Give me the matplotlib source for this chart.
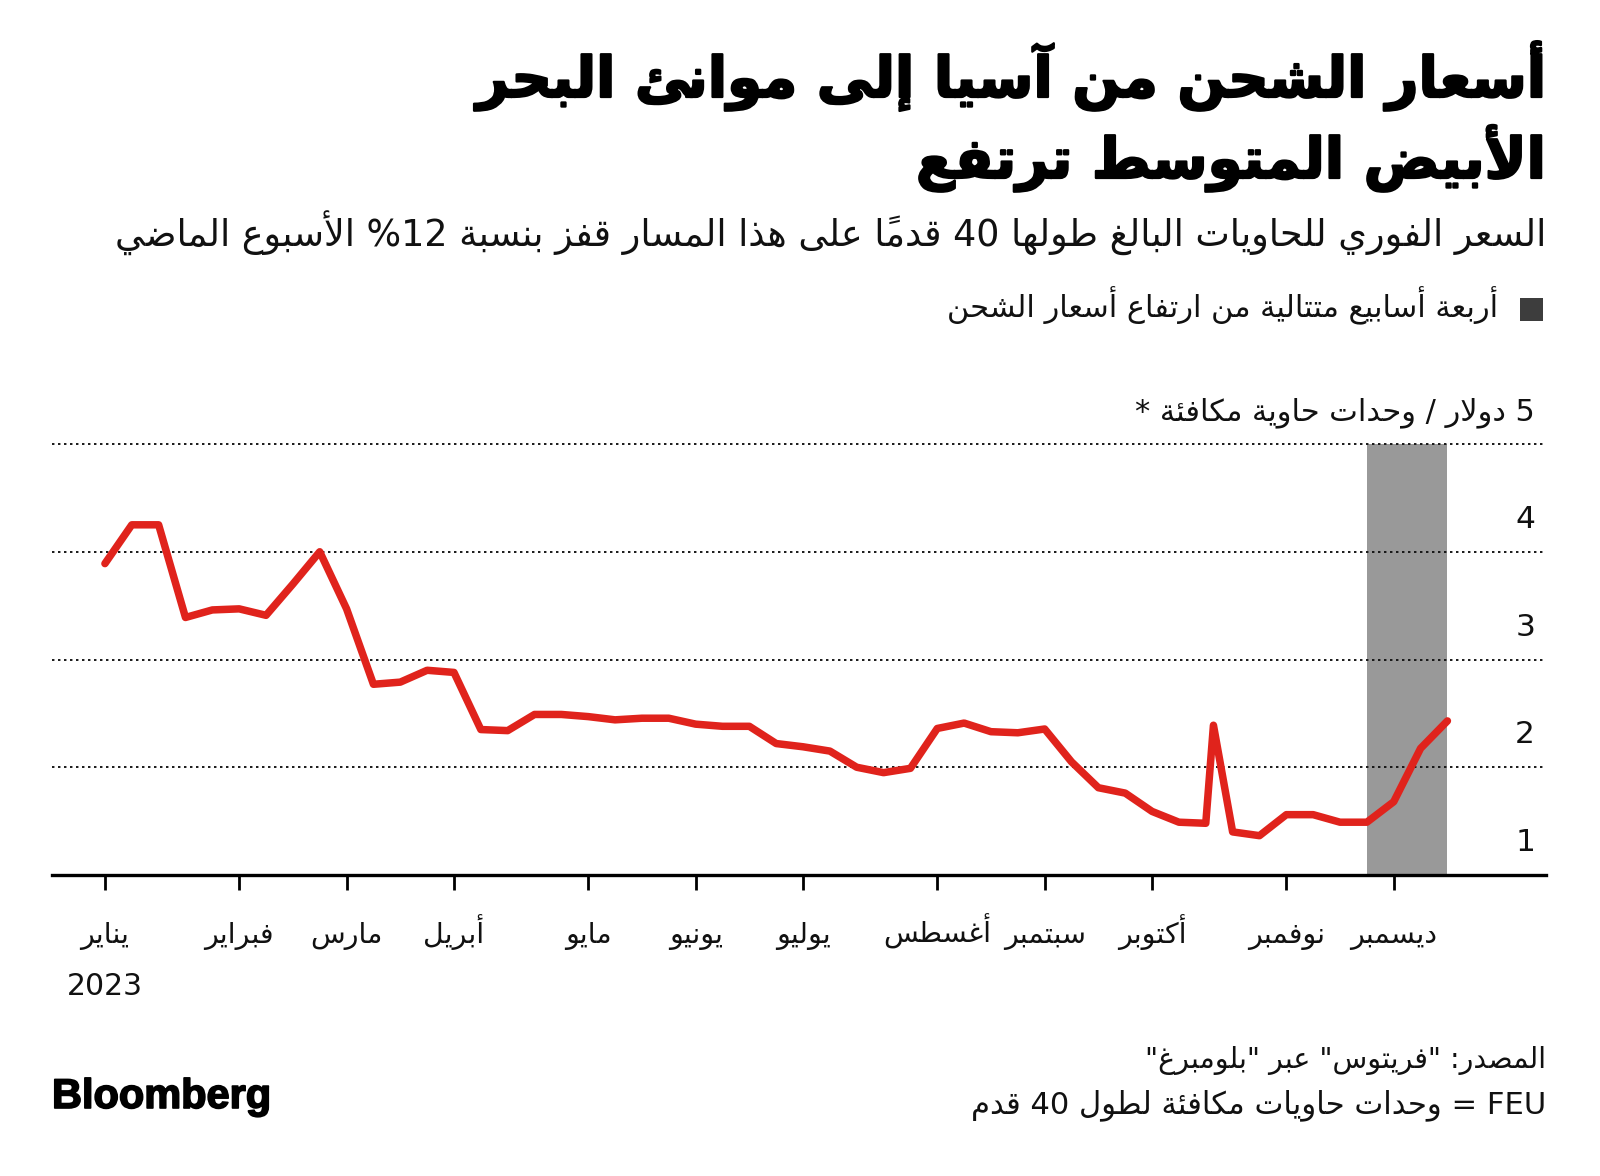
import datetime as dt
import matplotlib
matplotlib.use('Agg')
import matplotlib.pyplot as plt
import matplotlib.dates as mdates
import matplotlib.patheffects as pe
from matplotlib.patches import Rectangle
from matplotlib.transforms import offset_copy
import pandas as pd

plt.rcParams['font.family'] = ['DejaVu Sans']

# ---- data (Freightos Asia -> Mediterranean, weekly) ----
week_dates = list(pd.date_range('2023-01-01', periods=51, freq='7D'))
week_dates.insert(42, pd.Timestamp('2023-10-17'))   # extra mid-week print (spike)
rates = [3.89, 4.25, 4.25, 3.39, 3.46, 3.47, 3.41, 3.70, 4.00, 3.47,
         2.77, 2.79, 2.90, 2.88, 2.35, 2.34, 2.49, 2.49, 2.47, 2.44,
         2.455, 2.455, 2.40, 2.38, 2.38, 2.22, 2.19, 2.15, 2.00, 1.95,
         1.99, 2.36, 2.41, 2.33, 2.32, 2.355, 2.05, 1.81, 1.76, 1.59,
         1.49, 1.48, 2.39, 1.40, 1.365, 1.56, 1.56, 1.49, 1.49, 1.68,
         2.175, 2.43]

month_ticks = ['2023-01-01', '2023-02-05', '2023-03-05', '2023-04-02', '2023-05-07', '2023-06-04',
               '2023-07-02', '2023-08-06', '2023-09-03', '2023-10-01', '2023-11-05', '2023-12-03']
month_names = ['يناير', 'فبراير', 'مارس', 'أبريل', 'مايو', 'يونيو',
               'يوليو', 'أغسطس', 'سبتمبر', 'أكتوبر', 'نوفمبر', 'ديسمبر']
y_ticks = [1, 2, 3, 4, 5]
y_labels = ['1', '2', '3', '4', '5 دولار / وحدات حاوية مكافئة *']
rise_span = ('2023-11-26', '2023-12-17')   # four straight weekly rises

title_lines = ['أسعار الشحن من آسيا إلى موانئ البحر', 'الأبيض المتوسط ترتفع']
subtitle = 'السعر الفوري للحاويات البالغ طولها 40 قدماً على هذا المسار قفز بنسبة 12% الأسبوع الماضي'
legend_text = 'أربعة أسابيع متتالية من ارتفاع أسعار الشحن'
source_lines = ['المصدر: "فريتوس" عبر "بلومبرغ"', 'FEU = وحدات حاويات مكافئة لطول 40 قدم']


# ---- minimal arabic shaping + rtl reordering (matplotlib has none) ----
FORMS = {
    'ء': (0xFE80, 1), 'آ': (0xFE81, 2), 'أ': (0xFE83, 2), 'ؤ': (0xFE85, 2),
    'إ': (0xFE87, 2), 'ئ': (0xFE89, 4), 'ا': (0xFE8D, 2), 'ب': (0xFE8F, 4),
    'ة': (0xFE93, 2), 'ت': (0xFE95, 4), 'ث': (0xFE99, 4), 'ج': (0xFE9D, 4),
    'ح': (0xFEA1, 4), 'خ': (0xFEA5, 4), 'د': (0xFEA9, 2), 'ذ': (0xFEAB, 2),
    'ر': (0xFEAD, 2), 'ز': (0xFEAF, 2), 'س': (0xFEB1, 4), 'ش': (0xFEB5, 4),
    'ص': (0xFEB9, 4), 'ض': (0xFEBD, 4), 'ط': (0xFEC1, 4), 'ظ': (0xFEC5, 4),
    'ع': (0xFEC9, 4), 'غ': (0xFECD, 4), 'ف': (0xFED1, 4), 'ق': (0xFED5, 4),
    'ك': (0xFED9, 4), 'ل': (0xFEDD, 4), 'م': (0xFEE1, 4), 'ن': (0xFEE5, 4),
    'ه': (0xFEE9, 4), 'و': (0xFEED, 2), 'ى': (0xFEEF, 2), 'ي': (0xFEF1, 4),
}
LAM_ALEF = {'آ': 0xFEF5, 'أ': 0xFEF7, 'إ': 0xFEF9, 'ا': 0xFEFB}


def ar(text):
    cl = []
    for c in text:
        if '\u064b' <= c <= '\u0652' and cl:
            cl[-1][1] += c
        else:
            cl.append([c, ''])
    merged = []
    i = 0
    while i < len(cl):
        if cl[i][0] == 'ل' and i + 1 < len(cl) and cl[i + 1][0] in LAM_ALEF:
            merged.append([('la', cl[i + 1][0]), cl[i][1] + cl[i + 1][1]])
            i += 2
        else:
            merged.append(cl[i])
            i += 1

    def nf(b):
        if isinstance(b, tuple):
            return 2
        return FORMS[b][1] if b in FORMS else 0

    out = []
    for i, (b, m) in enumerate(merged):
        n = nf(b)
        if n == 0:
            out.append((b, m))
            continue
        prev = n > 1 and i > 0 and nf(merged[i - 1][0]) == 4
        nxt = n == 4 and i + 1 < len(merged) and nf(merged[i + 1][0]) >= 2
        base = LAM_ALEF[b[1]] if isinstance(b, tuple) else FORMS[b][0]
        f = 3 if (prev and nxt) else 1 if prev else 2 if nxt else 0
        out.append((chr(base + f), m))

    runs = []
    for ch, m in out:
        ltr = ch.isascii() and ch.isalnum()
        if runs and runs[-1][0] == ltr:
            runs[-1][1].append(ch + m)
        else:
            runs.append([ltr, [ch + m]])
    vis = ''
    for ltr, items in reversed(runs):
        vis += ''.join(items if ltr else reversed(items))
    return vis


W, H = 1600, 1176
fig = plt.figure(figsize=(W / 100, H / 100), dpi=100)
fig.patch.set_facecolor('white')
rend = fig.canvas.get_renderer()


def fy(ypx):
    return 1 - ypx / H


def fit(t, target):
    w = t.get_window_extent(rend).width
    t.set_fontsize(t.get_fontsize() * target / w)


ax = fig.add_axes([52 / W, 1 - 875 / H, 1494 / W, 431 / H])

x = mdates.date2num(week_dates)
ax.plot(x, rates, color='#e0231c', lw=5.4, solid_joinstyle='round',
        solid_capstyle='round', zorder=3)
ax.axvspan(mdates.date2num(pd.Timestamp(rise_span[0])), mdates.date2num(pd.Timestamp(rise_span[1])),
           color='#999999', lw=0, zorder=1)

x0 = mdates.date2num(pd.Timestamp('2023-01-01'))
ax.set_xlim(x0 - 13.8, x0 + 375.7)
ax.set_ylim(1, 5)

ax.set_yticks(y_ticks)
ax.set_yticklabels([])
ax.tick_params(axis='y', length=0)
ax.grid(axis='y', color='#111111', lw=1.35, ls=(0, (1.3, 1.9)))
ax.set_axisbelow('line')
for gl in ax.get_ygridlines():
    gl.set_clip_on(False)

tick_x = mdates.date2num(pd.to_datetime(month_ticks))
ax.set_xticks(tick_x)
ax.set_xticklabels([])
ax.tick_params(axis='x', direction='out', length=10.8, width=2.0, color='black')

for s in ['top', 'left', 'right']:
    ax.spines[s].set_visible(False)
ax.spines['bottom'].set_linewidth(2.4)
ax.spines['bottom'].set_color('black')
ax.spines['bottom'].set_zorder(4)

# y labels sit above their gridline, right-aligned inside the plot
ytr = offset_copy(ax.get_yaxis_transform(), fig=fig, x=-11, y=24, units='dots')
for v, lab in zip(y_ticks, y_labels):
    t = ax.text(1, v, ar(lab), transform=ytr, ha='right', va='baseline', fontsize=22.5, color='#111111')
    if v == 5:
        fit(t, 400)

mtr = offset_copy(ax.get_xaxis_transform(), fig=fig, y=-68, units='dots')
for tx, name in zip(tick_x, month_names):
    ax.text(tx, 0, ar(name), transform=mtr, ha='center', va='baseline', fontsize=20.5, color='#111111')
ytr2 = offset_copy(ax.get_xaxis_transform(), fig=fig, y=-120, units='dots')
ax.text(tick_x[0], 0, '2023', transform=ytr2, ha='center', va='baseline', fontsize=21.5, color='#111111')

# ---- titles ----
heavy = [pe.withStroke(linewidth=1.6, foreground='black')]
t1 = fig.text(1546 / W, fy(97), ar(title_lines[0]), ha='right', va='baseline',
              fontsize=50, fontweight='bold', color='black', path_effects=heavy)
fit(t1, 1071)
fig.text(1546 / W, fy(178), ar(title_lines[1]), ha='right', va='baseline',
         fontsize=t1.get_fontsize(), fontweight='bold', color='black', path_effects=heavy)
ts = fig.text(1546 / W, fy(247), ar(subtitle), ha='right', va='baseline', fontsize=24, color='#111111')
fit(ts, 1439)

# legend
fig.add_artist(Rectangle((1520 / W, fy(321)), 23 / W, 23 / H, transform=fig.transFigure,
                         facecolor='#3d3d3d', edgecolor='none'))
tl = fig.text(1498 / W, fy(317), ar(legend_text), ha='right', va='baseline', fontsize=20, color='#111111')
fit(tl, 549)

# ---- footer ----
tf1 = fig.text(1546 / W, fy(1068), ar(source_lines[0]), ha='right', va='baseline', fontsize=20, color='#111111')
fit(tf1, 401)
tf2 = fig.text(1546 / W, fy(1113), ar(source_lines[1]), ha='right', va='baseline', fontsize=20, color='#111111')
fit(tf2, 575)
tb = fig.text(52 / W, fy(1108), 'Bloomberg', ha='left', va='baseline', fontsize=30,
              fontweight='bold', family='Liberation Sans', color='black',
              path_effects=[pe.withStroke(linewidth=1.2, foreground='black')])
fit(tb, 219)

fig.savefig('out.png', dpi=100)
